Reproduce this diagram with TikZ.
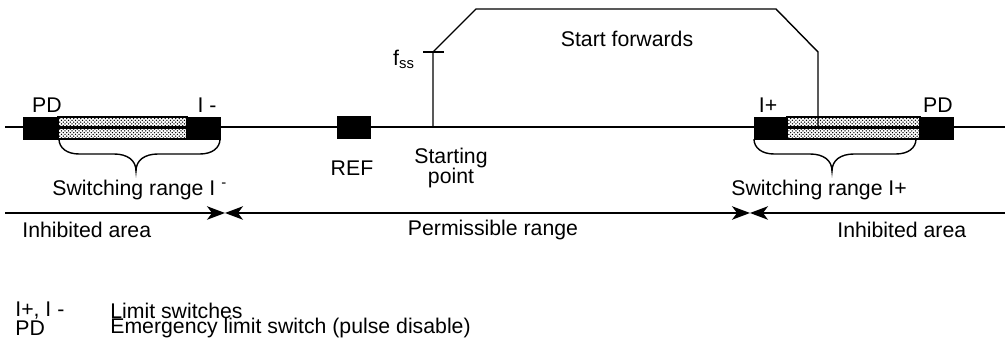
\documentclass[tikz,border=0pt]{standalone}
\usepackage{fontspec}
\setmainfont{Liberation Sans}
\usetikzlibrary{patterns,arrows.meta}
% denser than the crosshatch dots of the library
\pgfdeclarepatternformonly{switchdots}{\pgfqpoint{-0.5pt}{-0.5pt}}{\pgfqpoint{2pt}{2pt}}{\pgfqpoint{2pt}{2pt}}{
	\pgfpathcircle{\pgfqpoint{0pt}{0pt}}{0.42pt}
	\pgfpathcircle{\pgfqpoint{1pt}{1pt}}{0.42pt}
	\pgfusepath{fill}
}
\tikzset{
	blackbox/.style={draw,fill=black,line width=0.4pt},
	dotbox/.style={draw,line width=0.6pt,pattern=switchdots},
	axisline/.style={line width=0.8pt},
	stoptip/.tip={Stealth[length=0.36cm,width=0.27cm,inset=0.1cm]},
	lbl/.style={inner sep=0pt,font=\fontsize{12.1}{11.5}\selectfont},
	lblleft/.style={lbl,anchor=west},
}
% one brace between two coordinates, tip in the middle
\newcommand{\switchbrace}[3]{
	\draw [axisline] (#1,139) .. controls (#1,148) and (#1+8,154) .. (#1+20,154)
		-- (#3-22,154) .. controls (#3-9,154) and (#3,160) .. (#3,171)
		.. controls (#3,160) and (#3+9,154) .. (#3+22,154)
		-- (#2-20,154) .. controls (#2-8,154) and (#2,148) .. (#2,139);
}
\begin{document}
\begin{tikzpicture}[x=0.02cm,y=-0.02cm]
	
	\useasboundingbox (0,0) rectangle (1005,347);
	
	% end points of the two long lines
	\coordinate (axisL) at (5,127);
	\coordinate (axisR) at (1005,127);
	\coordinate (rangeL) at (5,213);
	\coordinate (stopL) at (225,213);
	\coordinate (stopR) at (750,213);
	\coordinate (rangeR) at (1005,213);
	
	\draw [axisline] (axisL) -- (axisR);
	
	% switches on the axis
	\node (pdLbox) [blackbox,minimum width=0.7cm,minimum height=0.44cm] at (40.5,128) {};
	\node (hatchL) [dotbox,minimum width=2.58cm,minimum height=0.44cm] at (122.5,128) {};
	\node (limL) [blackbox,minimum width=0.66cm,minimum height=0.44cm] at (203.5,128) {};
	\node (refbox) [blackbox,minimum width=0.66cm,minimum height=0.44cm] at (353.5,127) {};
	\node (limR) [blackbox,minimum width=0.66cm,minimum height=0.44cm] at (770.5,128) {};
	\node (hatchR) [dotbox,minimum width=2.66cm,minimum height=0.44cm] at (853.5,128) {};
	\node (pdRbox) [blackbox,minimum width=0.66cm,minimum height=0.44cm] at (936.5,128) {};
	
	\draw [axisline] (hatchL.west) -- (hatchL.east);
	\draw [axisline] (hatchR.west) -- (hatchR.east);
	
	% speed profile
	\coordinate (start) at (433,127);
	\coordinate (fss) at (433,52);
	\coordinate (tickL) at (423,52);
	\coordinate (tickR) at (444,52);
	\coordinate (topL) at (476,9);
	\coordinate (topR) at (776,9);
	\coordinate (downT) at (818,52);
	\coordinate (downB) at (818,127);
	\draw [axisline] (start) -- (fss) -- (topL) -- (topR) -- (downT) -- (downB);
	\draw [axisline] (tickL) -- (tickR);
	
	\switchbrace{59}{220}{136}
	\switchbrace{754}{916}{832}
	
	% permitted and inhibited ranges
	\draw [axisline,-stoptip] (rangeL) -- (stopL);
	\draw [axisline,stoptip-stoptip] (stopL) -- (stopR);
	\draw [axisline,stoptip-] (stopR) -- (rangeR);
	
	\node (pdL) [lbl] at (47,105) {PD};
	\node (limLtxt) [lbl] at (207,105) {I -};
	\node (limRtxt) [lbl] at (768,105) {I+};
	\node (pdR) [lbl] at (938,105) {PD};
	\node (fsstxt) [lbl] at (404,59) {f\textsubscript{ss}};
	\node (forwards) [lbl] at (627,39) {Start forwards};
	\node (ref) [lbl] at (352,168) {REF};
	\node (startpt) [lbl,align=center] at (451,168) {Starting\\point};
	\node (swL) [lblleft] at (52,190) {Switching range I \textsuperscript{-}};
	\node (swR) [lblleft] at (731,190) {Switching range I+};
	\node (inhL) [lblleft] at (22,230) {Inhibited area};
	\node (perm) [lbl] at (493,230) {Permissible range};
	\node (inhR) [lblleft] at (837,230) {Inhibited area};
	\node (key1) [lblleft] at (15,311) {I+, I -};
	\node (keytxt1) [lblleft] at (110,311) {Limit switches};
	\node (key2) [lblleft] at (15,328) {PD};
	\node (keytxt2) [lblleft] at (110,328) {Emergency limit switch (pulse disable)};
	
\end{tikzpicture}
\end{document}
